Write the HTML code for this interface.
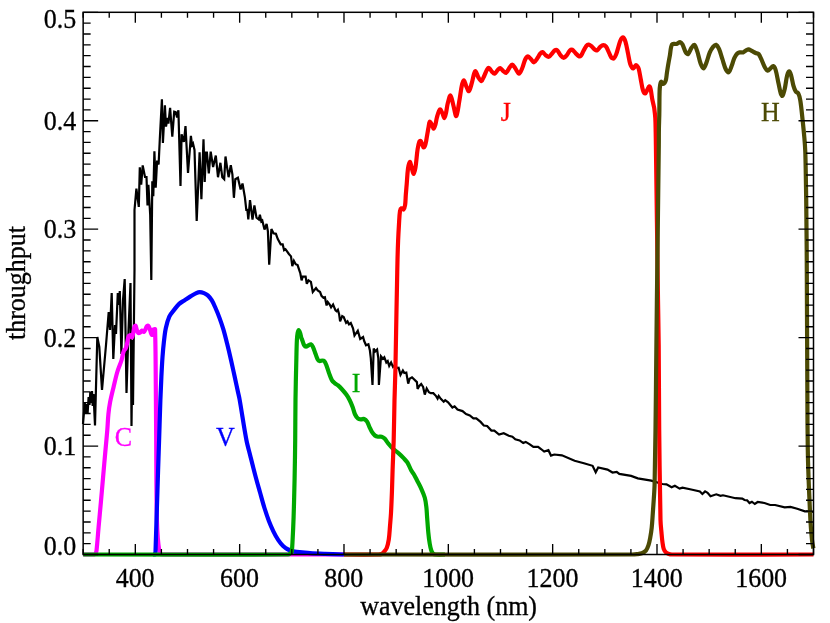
<!DOCTYPE html>
<html><head><meta charset="utf-8"><title>throughput</title>
<style>
html,body{margin:0;padding:0;background:#fff;}
body{width:830px;height:623px;overflow:hidden;}
svg{display:block;will-change:transform;}
text{font-family:"Liberation Serif",serif;font-size:26px;fill:#000;stroke:#000;stroke-width:0.3px;}
.c{fill:none;stroke-width:4.2;stroke-linejoin:round;stroke-linecap:butt;}
</style></head><body>
<svg width="830" height="623" viewBox="0 0 830 623">
<polyline fill="none" stroke="#000" stroke-width="2.2" stroke-linejoin="miter" stroke-miterlimit="3" points="83,424 84.8,403 85.8,414 86.6,404 87.6,413.5 88.6,397 89.5,405 90.3,392 91,403 92,391 92.7,406 93.5,394 95,425.5 97.3,337 99.3,347 102,390 106,345 108.7,312 110,330 111.7,293 113.3,359 115,325 116,334 117.8,293 118.8,305 119.8,291 121.4,354 123,300 124.7,279 126.5,393 128.5,330 130.5,283 131.5,426 132.5,340 133,405 134.5,270 134.5,210 136.4,188.6 138.8,206.9 139.8,167.3 141.2,184.7 142.7,165.4 145,177 146.5,177 147.5,205.4 148.4,184.7 150.2,215 151.3,280 152.3,181.3 153.3,196.3 154.4,151.4 155.7,187.6 157.1,160.6 158.6,164.5 159.8,139.2 161.9,99.2 162.9,143 164.9,105.4 166,126.6 167.5,118 168.4,123.7 170.1,107.8 172.3,136.7 174.2,111.7 175.7,112.2 177.1,117.5 178.4,110.2 180.5,186 181.6,134.3 183.9,142 185.5,126.1 188,173 190.9,135.8 192,145 193,143.5 194.5,150 196.7,221 199.6,152.2 201.4,199.3 203.5,139.2 204.7,182 205.9,152.7 206.9,152.7 208.8,173.4 210.7,151.7 213.1,167.1 215.8,155.5 218,177.2 220.4,162.8 222.3,177.2 224.2,179.2 225.5,156.5 227.1,167.6 228.6,177.2 230.8,165.2 232.4,174.3 233.9,197.8 235.3,179.2 237.9,177.7 240.6,189.5 242.5,183.5 244.9,197.3 246.4,210.8 247.3,209 248.3,219.5 250,200.2 252.5,219.5 254.4,205.5 256.5,217.6 258.9,219.5 259.9,214.7 261.3,221.4 262.3,220.5 264.5,229.5 266.6,224 267.9,231.4 269.2,264.6 271.4,229 273.5,233.3 275.9,233.8 277.8,239.1 280.7,244.4 282.7,244.4 284.1,250.2 285.5,249.2 288.9,254 291,256.4 292.3,266.1 293.9,260.8 295.7,264.2 297.6,265.1 299.5,270.9 300.3,273.2 301.6,280.4 302.7,276.6 305.6,276.6 306.8,283.8 308.5,280.4 310.9,281.9 312.8,292 316,288.1 317.7,290.5 320.1,292 321.5,295.8 323.4,297.8 324.9,297.3 326.6,305.5 327.8,302.1 329.7,304.5 331.1,307.4 333.1,304.5 335.5,310.3 336.6,311.3 337.9,309.8 339.1,314.2 340.1,321.4 342.2,316.1 343.7,317 346.1,322.8 347.5,321.4 349,324.3 350.8,323 353,328.3 354.5,335.5 357.8,330.7 360.2,338.9 363.1,337 364.1,340.8 366,345.2 368.4,344.2 369.9,350.5 370.8,358.2 372.5,385 373.7,348.6 375.2,351.4 377.1,349.5 378.3,358.2 378.9,385 381,356.3 382.9,358.7 384.3,357.2 386.3,362.5 387.7,361.1 389.2,365.9 391.1,362.5 393,366.9 395,365 397,368 398.6,367.7 400.5,374.9 402.9,370.5 404.3,373 406.3,372.5 408.2,383.6 409.6,378.7 412,377.3 416.9,382.1 417.6,388.9 419.3,386 421.2,384 423.1,386.9 424.8,394.6 426.7,388.4 428.9,392.2 430.8,393.2 433.3,393.2 436.1,396.1 437.6,398.5 438.7,395.9 440.8,398.8 443.7,401.7 445.2,400.2 448.1,402.4 452.4,407.5 454.6,406.3 457.5,409.6 462.5,411.1 466.1,414 469.8,415.4 473.4,418.3 476.3,418.3 480.6,421.9 483.8,425.5 487.1,426 491.4,430.6 494.3,430.6 499.1,434.6 503.7,433.2 508.8,435.7 512.4,436.7 515.3,439.3 519.6,440.4 523.2,442.9 525.7,441.9 529.8,444.3 533.4,446.9 538.1,446.8 541,449 544.2,451.6 548.4,450.2 551,455.6 554.3,454.5 561.9,455.3 574.6,460.7 583.9,463.2 592.6,465.8 595.7,472.2 598.2,467.4 607.5,469.6 612.5,472.5 616.7,471.8 619.3,473.9 631.1,475.9 637.8,478.4 651.3,480.6 662.3,484 666.5,484.3 671.6,487.3 674.9,485.7 679.6,488.6 682.5,487.6 691.2,489.5 699.9,491.4 702.4,494 705.1,491.4 707.6,492.8 710.5,496.3 716.3,494.3 720.5,495.9 723,495.3 735.5,498.2 742.3,498.6 744.5,500 747.1,500.3 749.5,503 751.9,501.7 754.8,504 757.7,502 764.5,503 770.2,505 775.1,505 784.7,507.4 790.5,506.9 797.2,508.8 804.9,511.3 808.8,511.3 813,512"/>
<path class="c" stroke="#ff00ff" d="M83.20,554.50 C83.20,554.50 94.30,554.50 94.30,554.50 C94.30,554.50 95.33,553.95 95.60,553.50 C96.07,552.72 96.39,551.74 96.50,550.80 C97.39,542.91 97.88,534.93 98.60,527.00 C99.35,518.67 100.15,510.33 100.90,502.00 C101.65,493.67 102.37,485.33 103.10,477.00 C103.83,468.67 104.56,460.33 105.30,452.00 C105.96,444.67 106.70,437.34 107.30,430.00 C107.73,424.74 107.87,419.45 108.40,414.20 C108.80,410.18 109.34,406.16 110.10,402.20 C111.11,396.93 112.45,391.72 113.70,386.50 C114.85,381.66 115.88,376.77 117.30,372.00 C118.51,367.93 120.35,364.06 121.60,360.00 C122.49,357.12 122.70,353.99 123.70,351.20 C124.10,350.09 125.35,349.38 125.80,348.30 C126.55,346.48 126.84,344.44 127.30,342.50 C127.81,340.34 127.88,337.88 128.70,336.00 C128.94,335.44 130.03,335.00 130.50,335.20 C131.13,335.47 131.67,337.72 132.00,337.40 C132.64,336.78 133.01,334.08 133.40,332.40 C133.84,330.48 133.90,328.39 134.50,326.60 C134.64,326.19 135.41,325.55 135.60,325.80 C136.14,326.51 136.26,328.29 136.70,329.50 C137.10,330.59 137.40,332.00 138.10,332.70 C138.46,333.06 139.43,332.98 139.90,332.70 C140.66,332.25 141.09,330.62 141.80,330.50 C142.43,330.39 143.34,332.16 143.90,332.00 C144.54,331.82 144.97,330.37 145.40,329.50 C145.93,328.43 146.13,327.06 146.80,326.20 C147.09,325.83 147.99,325.53 148.30,325.80 C148.95,326.36 149.34,327.69 149.70,328.70 C150.30,330.36 150.55,332.18 151.20,333.80 C151.38,334.25 152.05,335.20 152.20,334.90 C152.75,333.77 153.30,329.50 153.30,329.50 C153.30,329.50 155.10,329.10 155.10,329.10 C155.10,329.10 155.32,339.03 155.40,344.00 C155.49,349.33 155.56,354.67 155.60,360.00 C155.82,386.67 156.02,413.33 156.20,440.00 C156.29,453.33 156.28,466.67 156.40,480.00 C156.52,493.33 156.58,506.67 156.90,520.00 C157.04,526.00 157.34,532.01 157.80,538.00 C158.11,542.01 158.51,546.05 159.20,550.00 C159.44,551.39 159.85,552.98 160.60,554.00 C160.95,554.48 162.50,554.50 162.50,554.50 C162.50,554.50 344.00,554.50 344.00,554.50"/>
<path class="c" stroke="#0000ff" d="M153.00,554.50 C153.00,554.50 155.20,554.50 155.20,554.50 C155.20,554.50 155.47,552.84 155.50,552.00 C156.00,538.34 156.37,524.67 156.80,511.00 C157.23,497.33 157.66,483.67 158.10,470.00 C158.42,460.00 158.77,450.00 159.10,440.00 C159.54,426.50 159.91,413.00 160.40,399.50 C160.68,391.80 161.02,384.10 161.40,376.40 C161.72,369.96 162.04,363.53 162.50,357.10 C162.87,351.96 163.32,346.82 163.90,341.70 C164.42,337.19 164.85,332.63 165.80,328.20 C166.65,324.26 167.65,320.23 169.30,316.60 C170.42,314.13 172.43,312.08 174.10,309.90 C175.63,307.91 177.07,305.78 178.90,304.10 C180.60,302.54 182.76,301.49 184.70,300.20 C186.63,298.92 188.53,297.61 190.50,296.40 C192.40,295.24 194.30,294.04 196.30,293.10 C197.36,292.60 198.56,292.10 199.70,292.10 C201.12,292.10 202.65,292.55 204.00,293.10 C205.35,293.65 206.73,294.41 207.80,295.40 C209.29,296.78 210.63,298.45 211.70,300.20 C213.20,302.65 214.33,305.36 215.50,308.00 C216.90,311.16 218.21,314.36 219.40,317.60 C220.81,321.43 222.14,325.29 223.30,329.20 C224.71,333.96 225.90,338.78 227.10,343.60 C228.46,349.05 229.75,354.52 231.00,360.00 C232.32,365.76 233.55,371.53 234.80,377.30 C235.78,381.80 236.73,386.30 237.70,390.80 C238.33,393.70 239.08,396.58 239.60,399.50 C241.98,412.98 243.85,426.56 246.40,440.00 C247.38,445.19 248.91,450.27 250.20,455.40 C251.81,461.84 253.40,468.28 255.10,474.70 C256.63,480.48 258.28,486.24 259.90,492.00 C261.35,497.17 262.71,502.37 264.30,507.50 C265.71,512.04 267.21,516.56 268.90,521.00 C270.27,524.60 271.81,528.14 273.50,531.60 C274.94,534.54 276.49,537.48 278.30,540.20 C279.69,542.28 281.30,544.29 283.10,546.00 C284.56,547.39 286.29,548.62 288.10,549.50 C290.12,550.49 292.38,551.15 294.60,551.60 C297.11,552.11 299.73,552.13 302.30,552.40 C304.87,552.67 307.43,553.03 310.00,553.20 C314.99,553.53 320.00,553.71 325.00,553.90 C331.33,554.14 344.00,554.50 344.00,554.50"/>
<path class="c" stroke="#00a800" d="M83.20,554.50 C83.20,554.50 219.82,554.89 288.00,554.50 C288.92,554.49 289.77,553.83 290.50,553.30 C291.00,552.93 291.60,552.42 291.70,551.80 C292.30,547.99 292.38,543.94 292.60,540.00 C293.02,532.37 293.35,524.74 293.60,517.10 C294.02,504.27 294.33,491.43 294.60,478.60 C294.87,465.73 295.05,452.87 295.20,440.00 C295.35,426.50 295.30,413.00 295.50,399.50 C295.70,385.33 296.07,371.17 296.40,357.00 C296.53,351.33 296.62,345.66 296.90,340.00 C297.02,337.69 297.19,335.36 297.60,333.10 C297.79,332.03 298.28,330.00 298.70,330.00 C299.14,330.00 299.84,332.02 300.20,333.10 C300.71,334.62 300.85,336.26 301.30,337.80 C301.51,338.53 301.93,339.19 302.20,339.90 C302.86,341.62 303.22,343.55 304.10,345.10 C304.49,345.78 305.32,346.60 306.00,346.60 C306.92,346.60 307.92,345.57 308.90,345.10 C309.52,344.80 310.28,344.10 310.80,344.30 C311.58,344.60 312.36,345.70 312.80,346.60 C313.99,349.03 314.72,351.74 315.70,354.30 C316.32,355.94 316.76,357.70 317.60,359.20 C318.03,359.97 318.74,360.89 319.50,361.10 C320.34,361.33 321.44,360.50 322.40,360.50 C323.04,360.50 323.89,360.64 324.30,361.10 C325.19,362.10 325.78,363.57 326.30,364.90 C327.41,367.74 328.15,370.73 329.20,373.60 C330.05,375.90 330.78,378.32 332.00,380.40 C332.68,381.56 333.85,382.43 334.90,383.30 C335.79,384.03 336.92,384.46 337.80,385.20 C339.18,386.36 340.48,387.66 341.70,389.00 C343.38,390.86 345.04,392.77 346.50,394.80 C347.67,396.43 348.70,398.20 349.60,400.00 C350.77,402.33 351.77,404.76 352.70,407.20 C353.61,409.59 354.02,412.21 355.10,414.50 C355.82,416.04 356.84,417.70 358.10,418.70 C358.84,419.30 360.09,419.25 361.10,419.30 C362.09,419.35 363.24,418.66 364.10,419.00 C365.24,419.46 366.37,420.60 367.10,421.70 C368.17,423.30 368.66,425.32 369.50,427.10 C370.26,428.72 370.94,430.41 371.90,431.90 C372.74,433.21 373.71,434.56 374.90,435.50 C375.74,436.16 376.93,436.51 378.00,436.70 C379.16,436.91 380.49,436.38 381.60,436.70 C382.69,437.01 383.78,437.77 384.60,438.60 C385.98,440.00 386.93,441.86 388.20,443.40 C389.73,445.26 391.26,447.15 393.00,448.80 C394.86,450.55 397.08,451.91 399.00,453.60 C400.71,455.11 402.34,456.73 403.90,458.40 C405.17,459.76 406.53,461.12 407.50,462.70 C409.00,465.15 409.91,467.97 411.30,470.50 C412.11,471.97 413.26,473.25 414.10,474.70 C415.19,476.58 416.11,478.56 417.10,480.50 C418.41,483.06 419.83,485.57 421.00,488.20 C422.40,491.34 423.88,494.50 424.80,497.80 C425.68,500.94 426.01,504.25 426.40,507.50 C426.78,510.68 426.86,513.90 427.10,517.10 C427.49,522.23 427.80,527.38 428.30,532.50 C428.66,536.18 429.09,539.86 429.70,543.50 C430.09,545.86 430.55,548.25 431.30,550.50 C431.65,551.55 432.23,552.66 433.00,553.40 C433.63,554.00 434.61,554.42 435.50,554.50 C438.61,554.78 445.00,554.50 445.00,554.50"/>
<path class="c" stroke="#ff0000" d="M344.00,554.50 C344.00,554.50 367.01,554.65 378.50,554.50 C379.55,554.49 380.69,554.43 381.60,554.00 C382.46,553.59 383.16,552.75 383.80,552.00 C384.86,550.75 386.10,549.50 386.70,548.00 C387.77,545.30 388.36,542.31 388.80,539.40 C389.46,534.98 389.63,530.47 390.00,526.00 C390.36,521.67 390.76,517.34 391.00,513.00 C391.43,505.34 391.71,497.67 392.00,490.00 C392.25,483.34 392.37,476.67 392.60,470.00 C392.94,460.00 393.43,450.00 393.70,440.00 C394.06,426.67 394.18,413.33 394.50,400.00 C394.74,390.00 395.18,380.00 395.40,370.00 C395.84,350.00 396.12,330.00 396.50,310.00 C396.66,301.67 396.83,293.33 397.00,285.00 C397.17,276.67 397.29,268.33 397.50,260.00 C397.66,253.67 397.84,247.33 398.10,241.00 C398.34,235.33 398.64,229.66 399.00,224.00 C399.27,219.66 399.35,215.24 400.00,211.00 C400.15,210.01 400.74,208.57 401.40,208.30 C401.94,208.07 403.17,209.88 403.60,209.50 C404.41,208.78 404.86,206.55 405.10,205.00 C405.60,201.72 405.54,198.33 405.80,195.00 C406.08,191.40 406.40,187.80 406.70,184.20 C407.13,179.00 407.28,173.75 408.00,168.60 C408.32,166.32 409.14,162.14 409.80,161.90 C410.34,161.70 411.03,165.49 411.60,167.30 C412.30,169.52 412.95,174.00 413.60,174.00 C414.25,174.00 415.13,169.59 415.50,167.30 C416.46,161.35 416.70,155.27 417.60,149.30 C418.00,146.67 418.52,143.86 419.40,141.50 C419.55,141.09 420.44,140.75 420.70,141.00 C421.31,141.58 421.56,143.00 422.00,144.00 C422.52,145.17 423.01,147.41 423.60,147.50 C424.14,147.58 425.09,145.61 425.40,144.50 C426.29,141.37 426.61,138.04 427.20,134.80 C427.61,132.54 427.96,130.26 428.40,128.00 C428.80,125.96 428.98,122.82 429.70,121.90 C430.02,121.49 431.05,123.21 431.50,124.00 C432.35,125.47 432.89,128.51 433.60,128.70 C434.16,128.85 434.92,126.30 435.30,125.00 C436.05,122.43 436.24,119.68 437.00,117.10 C437.77,114.48 438.74,110.30 439.90,109.40 C440.51,108.93 441.64,111.73 442.30,113.00 C443.14,114.63 443.77,118.10 444.40,118.10 C445.01,118.10 445.61,114.73 446.00,113.00 C446.71,109.90 446.91,106.67 447.70,103.60 C448.41,100.84 449.64,95.21 450.50,95.50 C451.54,95.85 452.46,102.16 453.40,105.50 C454.39,109.03 455.47,116.64 456.30,116.10 C457.41,115.38 458.32,106.52 459.20,101.70 C460.25,95.92 460.81,90.00 462.10,84.30 C462.41,82.93 463.43,80.23 464.00,80.50 C464.83,80.90 465.43,84.42 466.30,86.30 C467.06,87.95 468.18,91.49 468.90,91.10 C469.98,90.52 470.92,86.01 471.70,83.40 C472.65,80.21 473.09,76.85 474.10,73.70 C474.39,72.78 475.17,70.82 475.60,71.20 C476.64,72.12 477.33,75.60 478.50,77.60 C479.26,78.90 480.58,81.37 481.40,81.10 C482.51,80.74 483.40,77.53 484.30,75.70 C485.33,73.60 485.99,71.23 487.20,69.30 C487.59,68.67 488.58,67.73 489.10,68.00 C490.18,68.56 490.91,70.65 492.00,71.80 C492.71,72.55 493.76,73.94 494.50,73.70 C495.69,73.31 496.63,71.09 497.80,69.90 C498.49,69.19 499.36,67.87 500.10,68.00 C501.10,68.17 501.96,69.96 503.00,70.80 C503.96,71.56 505.28,73.16 506.10,72.80 C507.38,72.23 508.15,69.53 509.30,68.00 C510.18,66.83 511.23,64.70 512.20,64.70 C513.17,64.70 514.22,66.83 515.10,68.00 C516.49,69.83 517.77,73.70 519.00,73.70 C520.17,73.70 521.42,70.00 522.30,68.00 C523.52,65.20 523.97,62.00 525.30,59.30 C525.87,58.14 527.07,56.40 528.00,56.40 C529.00,56.40 530.10,58.30 531.10,59.30 C532.07,60.27 533.00,62.53 533.90,62.30 C535.24,61.96 536.60,59.24 537.80,57.60 C538.70,56.37 539.23,54.84 540.20,53.70 C540.79,53.00 541.79,51.91 542.50,52.10 C543.63,52.41 544.52,54.32 545.70,55.20 C546.62,55.89 547.88,57.02 548.80,56.80 C549.95,56.52 550.90,54.76 551.90,53.70 C553.00,52.53 553.87,50.82 555.10,50.10 C555.70,49.75 556.87,50.00 557.40,50.50 C558.67,51.70 559.30,53.79 560.50,55.20 C561.40,56.25 562.64,57.90 563.70,57.90 C564.74,57.90 565.93,56.24 566.80,55.20 C567.99,53.77 568.63,51.75 569.90,50.50 C570.46,49.95 571.63,49.51 572.30,49.80 C573.47,50.31 574.36,51.87 575.40,52.90 C576.46,53.94 577.39,55.39 578.60,56.00 C579.23,56.32 580.40,56.20 580.90,55.70 C581.97,54.63 582.49,52.76 583.30,51.30 C584.32,49.46 585.12,47.37 586.40,45.80 C586.92,45.17 587.95,44.59 588.70,44.70 C589.79,44.86 590.94,45.83 591.90,46.60 C593.04,47.53 593.82,49.03 595.00,49.80 C595.62,50.20 596.70,50.45 597.30,50.10 C598.53,49.38 599.30,47.60 600.50,46.60 C601.30,45.93 602.37,45.10 603.30,45.10 C604.20,45.10 605.41,45.81 606.00,46.60 C607.34,48.41 608.07,50.80 609.10,52.90 C609.87,54.47 610.34,56.36 611.40,57.60 C611.91,58.20 613.24,58.77 613.80,58.40 C614.81,57.74 615.55,55.89 616.10,54.50 C617.11,51.96 617.67,49.22 618.50,46.60 C619.24,44.26 619.71,41.72 620.80,39.60 C621.27,38.68 622.59,37.20 623.20,37.50 C624.15,37.97 625.02,40.33 625.50,41.90 C626.59,45.46 627.12,49.23 627.90,52.90 C628.68,56.56 629.19,60.32 630.20,63.90 C630.56,65.18 631.27,66.41 632.00,67.50 C632.30,67.94 632.91,68.58 633.30,68.50 C633.77,68.41 634.20,67.53 634.60,67.00 C635.03,66.43 635.30,65.39 635.80,65.20 C636.17,65.06 636.87,65.60 637.20,66.00 C637.84,66.77 638.44,67.71 638.70,68.70 C639.64,72.21 640.09,75.90 640.80,79.50 C641.52,83.14 641.91,86.92 643.00,90.40 C643.37,91.59 644.53,93.62 645.20,93.50 C645.99,93.36 646.67,90.90 647.40,89.60 C648.00,88.53 648.60,86.53 649.20,86.40 C649.67,86.30 650.38,87.98 650.60,88.90 C651.34,91.95 651.53,95.18 652.10,98.30 C652.50,100.48 653.03,102.63 653.50,104.80 C653.73,105.87 654.05,106.92 654.20,108.00 C654.65,111.32 655.10,114.66 655.30,118.00 C655.60,122.82 655.59,127.67 655.70,132.50 C655.79,136.67 655.84,140.83 655.90,145.00 C656.61,196.67 657.28,248.33 658.00,300.00 C658.21,315.00 658.56,330.00 658.70,345.00 C658.96,373.33 658.91,401.67 659.20,430.00 C659.51,460.00 659.83,490.01 660.50,520.00 C660.60,524.28 661.12,528.54 661.50,532.80 C661.79,536.04 662.06,539.28 662.50,542.50 C662.79,544.65 663.02,546.87 663.70,548.90 C664.09,550.07 664.86,551.20 665.70,552.10 C666.36,552.80 667.29,553.35 668.20,553.70 C669.39,554.15 670.71,554.49 672.00,554.50 C719.14,554.76 813.50,554.50 813.50,554.50"/>
<path class="c" stroke="#4c4a04" d="M344.00,554.50 C344.00,554.50 536.00,554.60 632.00,554.50 C633.67,554.50 635.35,554.40 637.00,554.20 C638.61,554.00 640.32,553.90 641.80,553.30 C643.29,552.70 644.90,551.82 645.90,550.60 C647.14,549.09 647.85,547.01 648.50,545.10 C649.29,542.78 649.75,540.32 650.20,537.90 C650.82,534.56 651.34,531.18 651.70,527.80 C652.21,523.02 652.45,518.20 652.80,513.40 C653.15,508.57 653.50,503.74 653.80,498.90 C654.10,494.10 654.48,489.31 654.60,484.50 C655.05,466.34 655.27,448.17 655.50,430.00 C655.87,401.67 656.09,373.33 656.40,345.00 C656.56,330.00 656.72,315.00 656.90,300.00 C657.52,248.33 658.20,196.67 658.80,145.00 C658.86,139.67 658.81,134.33 658.90,129.00 C658.98,124.17 659.21,119.33 659.30,114.50 C659.44,106.70 659.37,98.89 659.60,91.10 C659.67,88.93 659.86,86.74 660.20,84.60 C660.36,83.61 660.64,81.82 661.10,81.70 C661.54,81.59 662.21,83.69 662.90,83.90 C663.41,84.06 664.31,83.35 664.70,82.80 C665.35,81.88 665.74,80.65 666.00,79.50 C666.48,77.38 666.58,75.16 666.90,73.00 C667.25,70.60 667.60,68.19 668.00,65.80 C668.56,62.46 669.17,59.13 669.80,55.80 C670.53,51.96 670.46,47.16 672.10,44.30 C672.73,43.20 675.17,44.29 676.60,43.90 C677.84,43.56 679.03,42.03 680.10,42.10 C680.96,42.16 681.89,43.39 682.40,44.30 C683.79,46.82 684.36,49.95 685.80,52.40 C686.26,53.18 687.56,54.44 688.10,54.00 C689.46,52.90 690.19,49.74 691.50,47.80 C692.26,46.67 693.60,44.38 694.30,44.80 C695.50,45.52 696.45,48.99 697.20,51.20 C698.59,55.32 699.19,59.75 700.70,63.80 C701.33,65.48 702.72,68.57 703.60,68.40 C704.62,68.20 705.64,64.67 706.40,62.70 C707.70,59.34 708.38,55.70 709.80,52.40 C710.68,50.34 711.90,48.31 713.30,46.60 C713.97,45.78 715.26,44.50 716.00,44.80 C717.16,45.27 718.32,47.37 719.00,48.90 C720.45,52.17 721.25,55.77 722.40,59.20 C723.55,62.64 724.34,66.31 725.90,69.50 C726.48,70.68 728.09,72.72 728.80,72.30 C729.99,71.59 730.78,68.21 731.60,66.10 C732.62,63.48 733.15,60.64 734.30,58.10 C735.05,56.44 736.09,54.80 737.30,53.50 C737.86,52.90 738.79,52.56 739.60,52.40 C740.69,52.19 741.97,52.74 743.00,52.40 C744.27,51.98 745.28,50.74 746.50,50.10 C747.18,49.74 748.00,49.26 748.70,49.40 C749.90,49.63 751.04,50.59 752.20,51.20 C753.34,51.79 754.43,52.49 755.60,53.00 C756.56,53.42 757.93,53.28 758.60,54.00 C759.83,55.34 760.47,57.43 761.30,59.20 C762.54,61.83 763.40,64.68 764.80,67.20 C765.53,68.51 766.64,70.48 767.70,70.70 C768.54,70.88 769.57,69.17 770.50,68.40 C771.41,67.64 772.43,65.93 773.20,66.10 C774.09,66.30 775.10,68.21 775.50,69.50 C776.87,73.94 777.49,78.70 778.50,83.30 C779.26,86.74 779.77,90.28 780.80,93.60 C781.07,94.48 782.04,96.33 782.40,95.90 C783.34,94.79 784.15,91.36 784.70,89.00 C785.75,84.49 786.04,79.75 787.20,75.30 C787.57,73.88 788.64,71.40 789.30,71.40 C789.94,71.40 790.70,73.93 791.10,75.30 C792.07,78.66 792.43,82.23 793.40,85.60 C793.96,87.56 794.64,89.61 795.70,91.30 C796.31,92.28 797.89,92.59 798.40,93.60 C799.42,95.62 799.93,98.08 800.30,100.40 C801.33,106.85 801.89,113.39 802.60,119.90 C803.26,125.99 803.89,132.09 804.40,138.20 C804.79,142.79 805.12,147.39 805.30,152.00 C805.59,159.66 805.65,167.33 805.80,175.00 C805.95,183.00 806.10,191.00 806.20,199.00 C806.40,216.00 806.59,233.00 806.70,250.00 C807.12,316.67 806.89,383.34 807.80,450.00 C808.12,473.34 809.31,496.68 810.40,520.00 C810.71,526.68 811.30,533.35 812.00,540.00 C812.30,542.85 813.40,548.50 813.40,548.50"/>
<rect x="83.15" y="12.3" width="730.35" height="542.2" fill="none" stroke="#000" stroke-width="1.5"/>
<path d="M83.15,554.5 v-5.5 M83.15,12.3 v5.5 M109.23,554.5 v-5.5 M109.23,12.3 v5.5 M135.32,554.5 v-10.5 M135.32,12.3 v10.5 M161.40,554.5 v-5.5 M161.40,12.3 v5.5 M187.49,554.5 v-5.5 M187.49,12.3 v5.5 M213.57,554.5 v-5.5 M213.57,12.3 v5.5 M239.65,554.5 v-10.5 M239.65,12.3 v10.5 M265.74,554.5 v-5.5 M265.74,12.3 v5.5 M291.82,554.5 v-5.5 M291.82,12.3 v5.5 M317.91,554.5 v-5.5 M317.91,12.3 v5.5 M343.99,554.5 v-10.5 M343.99,12.3 v10.5 M370.07,554.5 v-5.5 M370.07,12.3 v5.5 M396.16,554.5 v-5.5 M396.16,12.3 v5.5 M422.24,554.5 v-5.5 M422.24,12.3 v5.5 M448.33,554.5 v-10.5 M448.33,12.3 v10.5 M474.41,554.5 v-5.5 M474.41,12.3 v5.5 M500.49,554.5 v-5.5 M500.49,12.3 v5.5 M526.58,554.5 v-5.5 M526.58,12.3 v5.5 M552.66,554.5 v-10.5 M552.66,12.3 v10.5 M578.74,554.5 v-5.5 M578.74,12.3 v5.5 M604.83,554.5 v-5.5 M604.83,12.3 v5.5 M630.91,554.5 v-5.5 M630.91,12.3 v5.5 M657.00,554.5 v-10.5 M657.00,12.3 v10.5 M683.08,554.5 v-5.5 M683.08,12.3 v5.5 M709.16,554.5 v-5.5 M709.16,12.3 v5.5 M735.25,554.5 v-5.5 M735.25,12.3 v5.5 M761.33,554.5 v-10.5 M761.33,12.3 v10.5 M787.42,554.5 v-5.5 M787.42,12.3 v5.5 M813.50,554.5 v-5.5 M813.50,12.3 v5.5 M83.15,554.50 h15 M813.5,554.50 h-15 M83.15,543.66 h7.5 M813.5,543.66 h-7.5 M83.15,532.81 h7.5 M813.5,532.81 h-7.5 M83.15,521.97 h7.5 M813.5,521.97 h-7.5 M83.15,511.12 h7.5 M813.5,511.12 h-7.5 M83.15,500.28 h7.5 M813.5,500.28 h-7.5 M83.15,489.44 h7.5 M813.5,489.44 h-7.5 M83.15,478.59 h7.5 M813.5,478.59 h-7.5 M83.15,467.75 h7.5 M813.5,467.75 h-7.5 M83.15,456.90 h7.5 M813.5,456.90 h-7.5 M83.15,446.06 h15 M813.5,446.06 h-15 M83.15,435.22 h7.5 M813.5,435.22 h-7.5 M83.15,424.37 h7.5 M813.5,424.37 h-7.5 M83.15,413.53 h7.5 M813.5,413.53 h-7.5 M83.15,402.68 h7.5 M813.5,402.68 h-7.5 M83.15,391.84 h7.5 M813.5,391.84 h-7.5 M83.15,381.00 h7.5 M813.5,381.00 h-7.5 M83.15,370.15 h7.5 M813.5,370.15 h-7.5 M83.15,359.31 h7.5 M813.5,359.31 h-7.5 M83.15,348.46 h7.5 M813.5,348.46 h-7.5 M83.15,337.62 h15 M813.5,337.62 h-15 M83.15,326.78 h7.5 M813.5,326.78 h-7.5 M83.15,315.93 h7.5 M813.5,315.93 h-7.5 M83.15,305.09 h7.5 M813.5,305.09 h-7.5 M83.15,294.24 h7.5 M813.5,294.24 h-7.5 M83.15,283.40 h7.5 M813.5,283.40 h-7.5 M83.15,272.56 h7.5 M813.5,272.56 h-7.5 M83.15,261.71 h7.5 M813.5,261.71 h-7.5 M83.15,250.87 h7.5 M813.5,250.87 h-7.5 M83.15,240.02 h7.5 M813.5,240.02 h-7.5 M83.15,229.18 h15 M813.5,229.18 h-15 M83.15,218.34 h7.5 M813.5,218.34 h-7.5 M83.15,207.49 h7.5 M813.5,207.49 h-7.5 M83.15,196.65 h7.5 M813.5,196.65 h-7.5 M83.15,185.80 h7.5 M813.5,185.80 h-7.5 M83.15,174.96 h7.5 M813.5,174.96 h-7.5 M83.15,164.12 h7.5 M813.5,164.12 h-7.5 M83.15,153.27 h7.5 M813.5,153.27 h-7.5 M83.15,142.43 h7.5 M813.5,142.43 h-7.5 M83.15,131.58 h7.5 M813.5,131.58 h-7.5 M83.15,120.74 h15 M813.5,120.74 h-15 M83.15,109.90 h7.5 M813.5,109.90 h-7.5 M83.15,99.05 h7.5 M813.5,99.05 h-7.5 M83.15,88.21 h7.5 M813.5,88.21 h-7.5 M83.15,77.36 h7.5 M813.5,77.36 h-7.5 M83.15,66.52 h7.5 M813.5,66.52 h-7.5 M83.15,55.68 h7.5 M813.5,55.68 h-7.5 M83.15,44.83 h7.5 M813.5,44.83 h-7.5 M83.15,33.99 h7.5 M813.5,33.99 h-7.5 M83.15,23.14 h7.5 M813.5,23.14 h-7.5 M83.15,12.30 h15 M813.5,12.30 h-15" stroke="#000" stroke-width="1.35" fill="none"/>
<text transform="translate(135.12,587.40) scale(1.0,1.08)" text-anchor="middle">400</text>
<text transform="translate(239.45,587.40) scale(1.0,1.08)" text-anchor="middle">600</text>
<text transform="translate(343.79,587.40) scale(1.0,1.08)" text-anchor="middle">800</text>
<text transform="translate(448.13,587.40) scale(1.0,1.08)" text-anchor="middle">1000</text>
<text transform="translate(552.46,587.40) scale(1.0,1.08)" text-anchor="middle">1200</text>
<text transform="translate(656.80,587.40) scale(1.0,1.08)" text-anchor="middle">1400</text>
<text transform="translate(761.13,587.40) scale(1.0,1.08)" text-anchor="middle">1600</text>
<text transform="translate(76.20,554.60) scale(1.0,1.08)" text-anchor="end">0.0</text>
<text transform="translate(76.20,455.36) scale(1.0,1.08)" text-anchor="end">0.1</text>
<text transform="translate(76.20,346.92) scale(1.0,1.08)" text-anchor="end">0.2</text>
<text transform="translate(76.20,238.48) scale(1.0,1.08)" text-anchor="end">0.3</text>
<text transform="translate(76.20,130.04) scale(1.0,1.08)" text-anchor="end">0.4</text>
<text transform="translate(76.20,27.60) scale(1.0,1.08)" text-anchor="end">0.5</text>
<text transform="translate(448.60,614.60) scale(1.0,1.08)" text-anchor="middle">wavelength (nm)</text>
<text transform="translate(24.90,283.00) rotate(-90) scale(1.0,1.08)" text-anchor="middle">throughput</text>
<text transform="translate(123.40,446.00) scale(1.0,1.08)" text-anchor="middle" style="fill:#ff00ff;stroke:#ff00ff">C</text>
<text transform="translate(225.50,446.00) scale(1.0,1.08)" text-anchor="middle" style="fill:#0000ff;stroke:#0000ff">V</text>
<text transform="translate(356.10,391.50) scale(1.0,1.08)" text-anchor="middle" style="fill:#00a800;stroke:#00a800">I</text>
<text transform="translate(505.90,121.00) scale(1.0,1.08)" text-anchor="middle" style="fill:#ff0000;stroke:#ff0000">J</text>
<text transform="translate(770.50,121.20) scale(1.0,1.08)" text-anchor="middle" style="fill:#4c4a04;stroke:#4c4a04">H</text>
</svg>
</body></html>
